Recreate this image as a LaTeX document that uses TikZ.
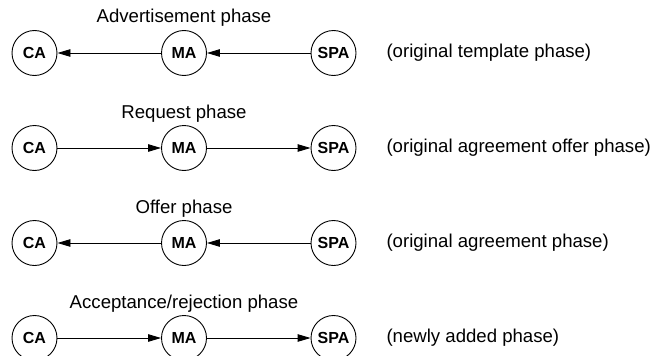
\documentclass[tikz,border=0pt]{standalone}
\usepackage{fontspec}
\setmainfont{Liberation Sans}
\usetikzlibrary{arrows.meta}
\begin{document}
\begin{tikzpicture}[x=1pt,y=-1pt,
  party/.style={circle,draw,line width=0.9pt,minimum size=45pt,inner sep=0pt,
    font=\fontsize{16}{16}\selectfont\bfseries},
  flow/.style={line width=0.9pt,-{Triangle[length=13pt,width=7.5pt]}},
  phasetitle/.style={anchor=base,font=\fontsize{18.6}{18.6}\selectfont},
  phasenote/.style={anchor=west,font=\fontsize{18.6}{18.6}\selectfont}]
\useasboundingbox (0,0) rectangle (656,356);

% row 1: advertisement
\node[phasetitle] (t1) at (184,23) {Advertisement phase};
\node[party] (ca1) at (34.5,53) {CA};
\node[party] (ma1) at (184,53) {MA};
\node[party] (spa1) at (333.5,53) {SPA};
\node[phasenote] (n1) at (383,53) {(original template phase)};
\draw[flow] (ma1) -- (ca1);
\draw[flow] (spa1) -- (ma1);

% row 2: request
\node[phasetitle] (t2) at (184,118) {Request phase};
\node[party] (ca2) at (34.5,148) {CA};
\node[party] (ma2) at (184,148) {MA};
\node[party] (spa2) at (333.5,148) {SPA};
\node[phasenote] (n2) at (383,148) {(original agreement offer phase)};
\draw[flow] (ca2) -- (ma2);
\draw[flow] (ma2) -- (spa2);

% row 3: offer
\node[phasetitle] (t3) at (184,213) {Offer phase};
\node[party] (ca3) at (34.5,243) {CA};
\node[party] (ma3) at (184,243) {MA};
\node[party] (spa3) at (333.5,243) {SPA};
\node[phasenote] (n3) at (383,243) {(original agreement phase)};
\draw[flow] (ma3) -- (ca3);
\draw[flow] (spa3) -- (ma3);

% row 4: acceptance / rejection
\node[phasetitle] (t4) at (184,308) {Acceptance/rejection phase};
\node[party] (ca4) at (34.5,338) {CA};
\node[party] (ma4) at (184,338) {MA};
\node[party] (spa4) at (333.5,338) {SPA};
\node[phasenote] (n4) at (383,338) {(newly added phase)};
\draw[flow] (ca4) -- (ma4);
\draw[flow] (ma4) -- (spa4);
\end{tikzpicture}
\end{document}
